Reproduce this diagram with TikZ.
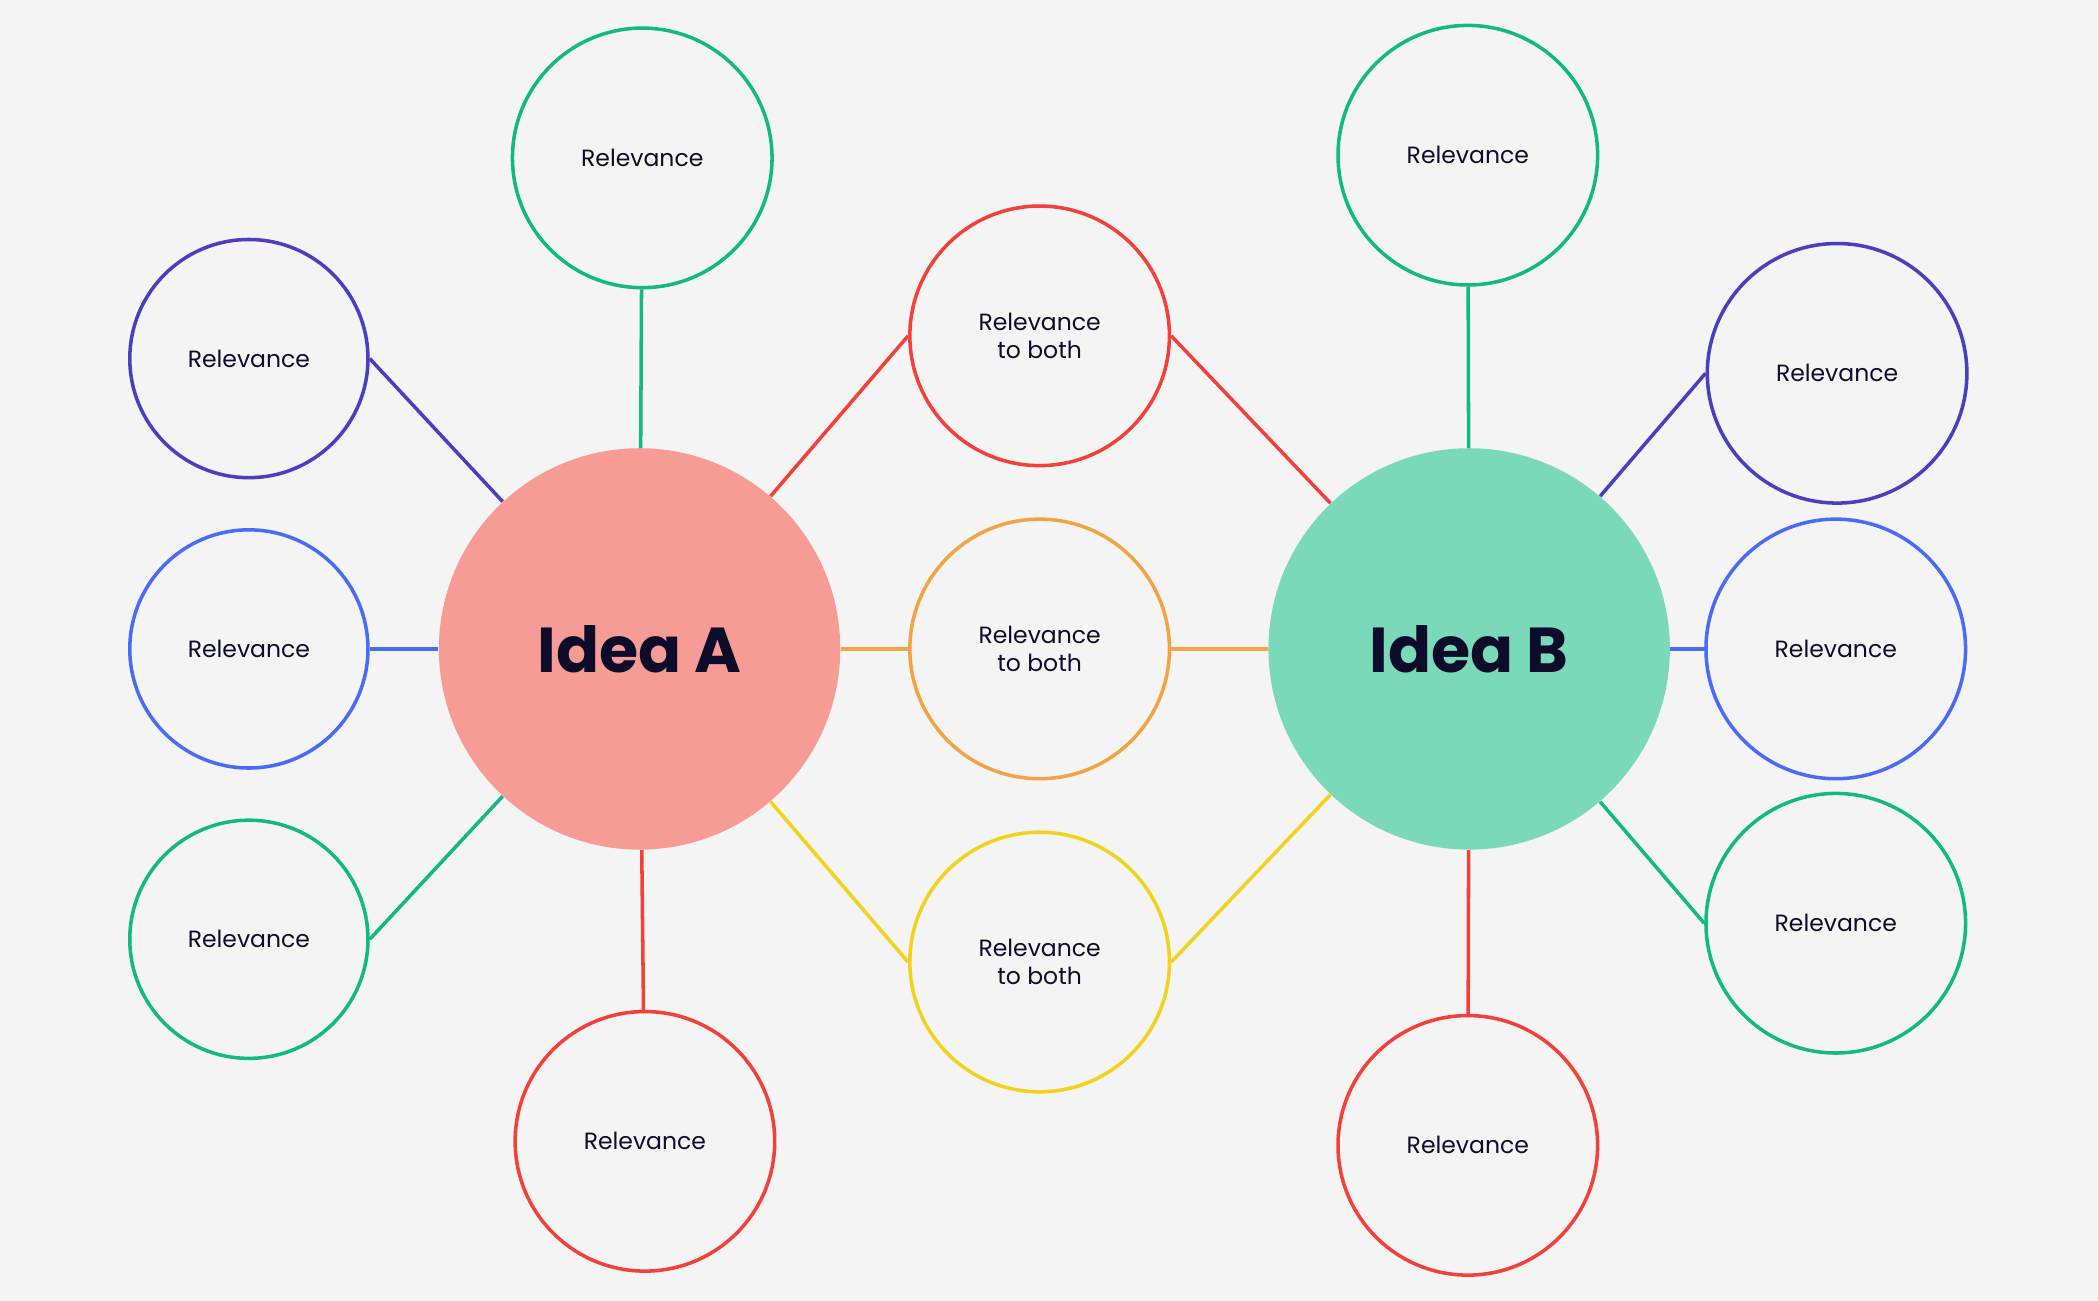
\documentclass[tikz,border=0pt]{standalone}
\usepackage{fontspec}
\setmainfont{Poppins}
\definecolor{bg}{HTML}{F4F4F4}
\definecolor{txt}{HTML}{0D0D2B}
\definecolor{cA}{HTML}{F69C95}
\definecolor{cB}{HTML}{7AD9B9}
\definecolor{cind}{HTML}{4B3FBF}
\definecolor{cblu}{HTML}{4A6BF5}
\definecolor{cgrn}{HTML}{12B981}
\definecolor{cred}{HTML}{F2413A}
\definecolor{cora}{HTML}{F2A343}
\definecolor{cyel}{HTML}{F2D11F}
\begin{document}
\begin{tikzpicture}[x=0.02cm,y=-0.02cm,
  big/.style={circle,minimum size=300*0.02cm,inner sep=0,font=\fontsize{27}{30}\selectfont\bfseries,text=txt},
  sm/.style={circle,draw=#1,line width=1.5pt,minimum size=178*0.02cm,inner sep=0,font=\fontsize{10}{12}\selectfont,text=txt,align=center},
  md/.style={circle,draw=#1,line width=1.5pt,minimum size=194*0.02cm,inner sep=0,font=\fontsize{10}{12}\selectfont,text=txt,align=center},
  ln/.style={draw=#1,line width=1.5pt}]
\fill[bg] (0,0) rectangle (1568,972);
\node[big,fill=cA] (A) at (478,485) {Idea A};
\node[big,fill=cB] (B) at (1098,485) {Idea B};
\node[sm=cind] (l1) at (186,268) {Relevance};
\node[sm=cblu] (l2) at (186,485) {Relevance};
\node[sm=cgrn] (l3) at (186,702) {Relevance};
\node[md=cgrn] (at) at (480,118) {Relevance};
\node[md=cred] (ab) at (482,853) {Relevance};
\node[md=cred] (m1) at (777,251) {Relevance\\ to both};
\node[md=cora] (m2) at (777,485) {Relevance\\ to both};
\node[md=cyel] (m3) at (777,719) {Relevance\\ to both};
\node[md=cgrn] (bt) at (1097,116) {Relevance};
\node[md=cred] (bb) at (1097,856) {Relevance};
\node[md=cind] (r1) at (1373,279) {Relevance};
\node[md=cblu] (r2) at (1372,485) {Relevance};
\node[md=cgrn] (r3) at (1372,690) {Relevance};
\draw[ln=cind] (l1.east) -- (A);
\draw[ln=cblu] (l2.east) -- (A);
\draw[ln=cgrn] (l3.east) -- (A);
\draw[ln=cgrn] (at) -- (A);
\draw[ln=cred] (ab) -- (A);
\draw[ln=cred] (m1.west) -- (A);
\draw[ln=cred] (m1.east) -- (B);
\draw[ln=cora] (m2) -- (A);
\draw[ln=cora] (m2) -- (B);
\draw[ln=cyel] (m3.west) -- (A);
\draw[ln=cyel] (m3.east) -- (B);
\draw[ln=cgrn] (bt) -- (B);
\draw[ln=cred] (bb) -- (B);
\draw[ln=cind] (r1.west) -- (B);
\draw[ln=cblu] (r2) -- (B);
\draw[ln=cgrn] (r3.west) -- (B);
\end{tikzpicture}
\end{document}
